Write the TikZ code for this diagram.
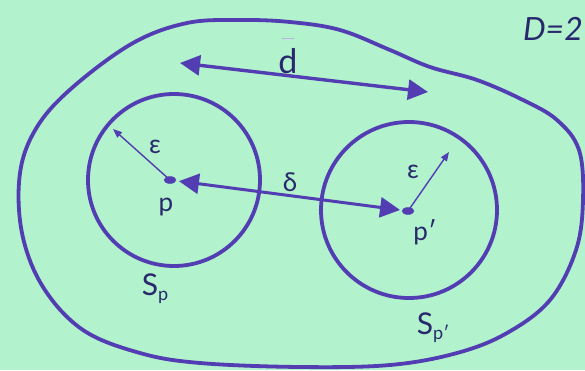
\documentclass[tikz,border=0pt]{standalone}
\usepackage{fontspec}
\setmainfont{Lato}
\usetikzlibrary{arrows.meta}
\definecolor{bg}{RGB}{178,242,204}
\definecolor{ink}{RGB}{82,62,178}
\definecolor{txt}{RGB}{40,40,108}
\begin{document}
\begin{tikzpicture}[x=1pt,y=-1pt,
  thickline/.style={draw=ink,line width=3.8pt},
  bigarrow/.style={draw=ink,line width=3.4pt,{Triangle[length=20pt,width=20pt]}-{Triangle[length=20pt,width=20pt]}},
  thinarrow/.style={draw=ink,line width=1.4pt,-{Triangle[length=9pt,width=7pt]}},
  lbl/.style={text=txt,inner sep=0pt,font=\fontsize{26}{28}\selectfont},
  dotmark/.style={fill=ink,draw=ink}]
\fill[bg] (0,0) rectangle (585,370);
\useasboundingbox (0,0) rectangle (585,370);
% outer region
\draw[thickline] plot[smooth cycle,tension=0.6] coordinates {
 (240,20) (187,23) (133,43) (73,87) (37,127) (20,173) (22,233) (43,287)
 (83,330) (140,353) (200,363) (300,367) (390,365) (457,353) (507,333)
 (550,300) (576,250) (583,200) (579,150) (557,120) (523,100) (477,80)
 (430,67) (390,50) (340,30) (290,22)};
% balls
\coordinate (p) at (170,180);
\coordinate (pp) at (408,211);
\draw[thickline] (174,180) circle[radius=86];
\draw[thickline] (409,210) circle[radius=88];
% d arrow
\coordinate (d1) at (180,63);
\coordinate (d2) at (428,92);
\draw[bigarrow] (d1) -- (d2);
\node[lbl,font=\fontsize{34}{36}\selectfont] (dl) at (288,61) {d};
\draw[ink!40,line width=1pt] (282,38) -- (294,38);
% delta arrow
\draw[bigarrow,line width=3pt,shorten <=9pt,shorten >=8pt] (p) -- (pp);
\node[lbl] (dlt) at (290,182) {δ};
% epsilon arrows
\coordinate (e1) at (113,129);
\coordinate (e2) at (449,152);
\draw[thinarrow] (p) -- (e1);
\draw[thinarrow] (pp) -- (e2);
\fill[dotmark] (p) ellipse[x radius=6pt,y radius=3.5pt];
\fill[dotmark] (pp) ellipse[x radius=6pt,y radius=3.5pt];
\node[lbl] (eps1) at (155,147) {ε};
\node[lbl] (eps2) at (413,172) {ε};
\node[lbl] (pl) at (166,207) {p};
\node[lbl] (ppl) at (425,232) {p′};
\node[lbl,font=\fontsize{30}{32}\selectfont] (sp) at (155,289) {S\raisebox{-0.35ex}{\fontsize{18}{20}\selectfont p}};
\node[lbl,font=\fontsize{30}{32}\selectfont] (spp) at (433,328) {S\raisebox{-0.35ex}{\fontsize{18}{20}\selectfont p′}};
\node[lbl,font=\fontsize{32}{34}\selectfont\itshape,anchor=east] (D) at (583,29) {D=2};
\end{tikzpicture}
\end{document}
